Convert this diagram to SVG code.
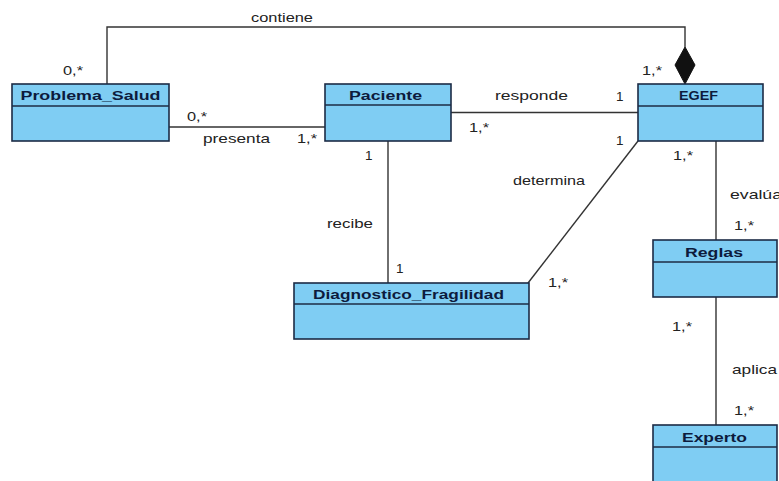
<svg xmlns="http://www.w3.org/2000/svg" width="779" height="481" viewBox="0 0 779 481">
  <style>
    .box { fill: #7fcdf3; stroke: #1c2b45; stroke-width: 1.6; }
    .div { stroke: #1c2b45; stroke-width: 1.4; }
    .title { font-family: "Liberation Sans", Arial, sans-serif; font-weight: bold; font-size: 13.5px; fill: #0d1b3d; }
    .lbl { font-family: "Liberation Sans", Arial, sans-serif; font-size: 13.5px; fill: #222; }
    .edge { fill: none; stroke: #333; stroke-width: 1.4; }
  </style>
  <rect width="779" height="481" fill="#ffffff"/>

  <!-- associations -->
  <g id="connectors">
    <polyline class="edge" points="107,84 107,27 685,27 685,47"/>
    <polygon points="685,47 695,65 685,84 675,65" fill="#111" stroke="#111" stroke-width="1"/>
    <line class="edge" x1="169" y1="127" x2="325" y2="127"/>
    <line class="edge" x1="451" y1="112.5" x2="638" y2="112.5"/>
    <line class="edge" x1="388" y1="141" x2="388" y2="283"/>
    <line class="edge" x1="638" y1="141" x2="528" y2="283"/>
    <line class="edge" x1="716" y1="141" x2="716" y2="240"/>
    <line class="edge" x1="716" y1="297" x2="716" y2="425"/>

    <text class="lbl" x="251" y="22" textLength="62" lengthAdjust="spacingAndGlyphs">contiene</text>
    <text class="lbl" x="63" y="75" textLength="20" lengthAdjust="spacingAndGlyphs">0,*</text>
    <text class="lbl" x="642" y="75" textLength="20" lengthAdjust="spacingAndGlyphs">1,*</text>
    <text class="lbl" x="187" y="121" textLength="20" lengthAdjust="spacingAndGlyphs">0,*</text>
    <text class="lbl" x="203" y="143" textLength="67" lengthAdjust="spacingAndGlyphs">presenta</text>
    <text class="lbl" x="297" y="143" textLength="20" lengthAdjust="spacingAndGlyphs">1,*</text>
    <text class="lbl" x="495" y="100" textLength="73" lengthAdjust="spacingAndGlyphs">responde</text>
    <text class="lbl" x="616" y="101">1</text>
    <text class="lbl" x="469" y="132" textLength="20" lengthAdjust="spacingAndGlyphs">1,*</text>
    <text class="lbl" x="616" y="145">1</text>
    <text class="lbl" x="513" y="185" textLength="72" lengthAdjust="spacingAndGlyphs">determina</text>
    <text class="lbl" x="365" y="160">1</text>
    <text class="lbl" x="327" y="228" textLength="46" lengthAdjust="spacingAndGlyphs">recibe</text>
    <text class="lbl" x="396" y="273">1</text>
    <text class="lbl" x="548" y="287" textLength="20" lengthAdjust="spacingAndGlyphs">1,*</text>
    <text class="lbl" x="673" y="160" textLength="20" lengthAdjust="spacingAndGlyphs">1,*</text>
    <text class="lbl" x="730" y="199" textLength="52" lengthAdjust="spacingAndGlyphs">evalúa</text>
    <text class="lbl" x="734" y="230" textLength="20" lengthAdjust="spacingAndGlyphs">1,*</text>
    <text class="lbl" x="672" y="331" textLength="20" lengthAdjust="spacingAndGlyphs">1,*</text>
    <text class="lbl" x="732" y="374" textLength="45" lengthAdjust="spacingAndGlyphs">aplica</text>
    <text class="lbl" x="734" y="415" textLength="20" lengthAdjust="spacingAndGlyphs">1,*</text>
  </g>

  <!-- classes -->
  <g id="problema_salud">
    <rect class="box" x="12" y="84" width="157" height="57"/>
    <line class="div" x1="12" y1="106" x2="169" y2="106"/>
    <text class="title" x="90.5" y="100" text-anchor="middle" textLength="140" lengthAdjust="spacingAndGlyphs">Problema_Salud</text>
  </g>
  <g id="paciente">
    <rect class="box" x="325" y="84" width="126" height="57"/>
    <line class="div" x1="325" y1="105" x2="451" y2="105"/>
    <text class="title" x="385.5" y="100" text-anchor="middle" textLength="73" lengthAdjust="spacingAndGlyphs">Paciente</text>
  </g>
  <g id="egef">
    <rect class="box" x="638" y="84" width="125" height="57"/>
    <line class="div" x1="638" y1="106" x2="763" y2="106"/>
    <text class="title" x="698.5" y="100" text-anchor="middle" textLength="39" lengthAdjust="spacingAndGlyphs">EGEF</text>
  </g>
  <g id="diagnostico_fragilidad">
    <rect class="box" x="294" y="283" width="235" height="56"/>
    <line class="div" x1="294" y1="304" x2="529" y2="304"/>
    <text class="title" x="408.5" y="299" text-anchor="middle" textLength="191" lengthAdjust="spacingAndGlyphs">Diagnostico_Fragilidad</text>
  </g>
  <g id="reglas">
    <rect class="box" x="653" y="240" width="124" height="57"/>
    <line class="div" x1="653" y1="262" x2="777" y2="262"/>
    <text class="title" x="714" y="257" text-anchor="middle" textLength="58" lengthAdjust="spacingAndGlyphs">Reglas</text>
  </g>
  <g id="experto">
    <rect class="box" x="653" y="425" width="124" height="62"/>
    <line class="div" x1="653" y1="447" x2="777" y2="447"/>
    <text class="title" x="714.5" y="442" text-anchor="middle" textLength="65" lengthAdjust="spacingAndGlyphs">Experto</text>
  </g>
</svg>
